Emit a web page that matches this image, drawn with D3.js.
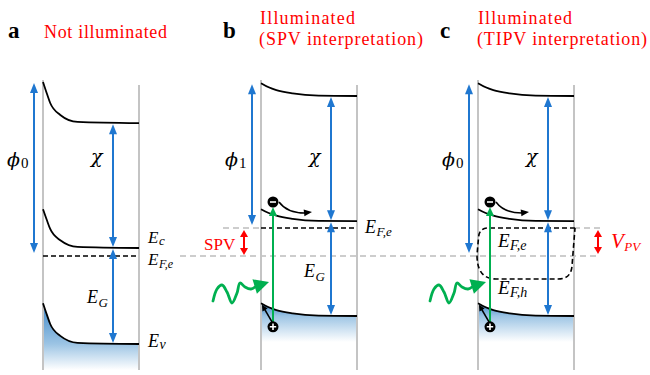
<!DOCTYPE html>
<html>
<head>
<meta charset="utf-8">
<script src="https://cdn.jsdelivr.net/npm/d3@7"></script>
<style>
  html, body { margin: 0; padding: 0; background: #fff; }
  svg { display: block; }
</style>
</head>
<body>
<script>
// Surface band diagrams: dark, illuminated (SPV view), illuminated (TIPV view)
const panelLetters = ["a", "b", "c"];
const titleLine1 = ["Not illuminated", "Illuminated", "Illuminated"];
const titleLine2 = ["", "(SPV interpretation)", "(TIPV interpretation)"];

// Energies in eV; zero is the surface vacuum level in the dark
const vacuumSurface = [0.00, -0.03, -0.03];
const vacuumBulk    = [-1.03, -0.35, -0.35];
const cbSurface     = [-3.18, -3.18, -3.18];
const cbBulk        = [-4.15, -3.48, -3.48];
const vbSurface     = [-5.53, -5.53, -5.53];
const vbBulk        = [-6.55, -5.85, -5.85];
const fermiDark     = -4.35;
const fermiElectron = [-4.35, -3.65, -3.65];
const fermiHole     = [null, null, -4.90];
const workFunctionEnd = [-4.35, -3.65, -4.35];
const workFunctionSub = ["0", "1", "0"];

// Normalised band bending vs depth (1 at the surface, 0 in the bulk)
const bendDepthDark  = [0, 0.04, 0.075, 0.18, 0.36, 1];
const bendFracDark   = [1, 0.72, 0.49, 0.20, 0.03, 0];
const bendDepthLight = [0, 0.08, 0.16, 0.33, 0.60, 1];
const bendFracLight  = [1, 0.68, 0.46, 0.20, 0.03, 0];

// Photogenerated carriers (panels b and c)
const carrierDepth = 0.125;
const electronEnergy = -3.0;
const holeEnergy = -6.12;

// ---------------------------------------------------------------
const W = 650, H = 375;
const svg = d3.select("body").append("svg").attr("width", W).attr("height", H);
const defs = svg.append("defs");

const y = d3.scaleLinear().domain([0, -7.2]).range([82, 370]);
const yBottom = y.range()[1];
const wallLeft = [43, 261, 478];
const wallWidth = 96;
const letterX = [8, 223, 440];
const titleX = [44, 260, 478];
const titleW1 = [123, 95, 94];
const titleW2 = [0, 164, 170];

const serif = "'Liberation Serif', 'Times New Roman', serif";
const greek = "'DejaVu Serif', serif";
const BLUE = "#1f77d0", GREEN = "#00b050", RED = "#ff0000", GRAY = "#c4c4c4";

function head(g, tipX, tipY, fromX, fromY, len, width, color) {
  const dx = tipX - fromX, dy = tipY - fromY, d = Math.hypot(dx, dy);
  const ux = dx / d, uy = dy / d;
  const bx = tipX - ux * len, by = tipY - uy * len;
  const px = -uy * width / 2, py = ux * width / 2;
  g.append("path")
    .attr("d", `M${tipX},${tipY}L${bx + px},${by + py}L${bx - px},${by - py}Z`)
    .attr("fill", color);
  return [bx + ux, by + uy];
}

function arrow(g, x1, y1, x2, y2, o) {
  let s = [x1, y1];
  const e = head(g, x2, y2, x1, y1, o.len, o.w, o.color);
  if (o.both) s = head(g, x1, y1, x2, y2, o.len, o.w, o.color);
  g.append("line")
    .attr("x1", s[0]).attr("y1", s[1]).attr("x2", e[0]).attr("y2", e[1])
    .attr("stroke", o.color).attr("stroke-width", o.sw);
}

function mathLabel(g, x, yb, main, sub, size, opts = {}) {
  const t = g.append("text")
    .attr("x", x).attr("y", yb)
    .attr("font-family", opts.family || serif)
    .attr("font-style", "italic")
    .attr("font-size", size)
    .attr("fill", opts.color || "#000");
  t.append("tspan").text(main);
  if (sub) {
    t.append("tspan")
      .attr("font-family", serif)
      .attr("font-size", opts.subSize || size * 0.68)
      .attr("font-style", opts.subUpright ? "normal" : "italic")
      .attr("dx", opts.subDx || 0.5)
      .attr("dy", opts.subDy != null ? opts.subDy : size * 0.2)
      .text(sub);
  }
  return t;
}

// Light-grey reference lines (dark Fermi level and illuminated E_F,e)
const refG = svg.append("g").attr("stroke", "#bdbdbd").attr("stroke-width", 1.3)
  .attr("stroke-dasharray", "6,4").attr("fill", "none");
refG.append("line").attr("x1", 180).attr("x2", 600)
  .attr("y1", y(fermiDark)).attr("y2", y(fermiDark));
refG.append("line").attr("x1", 223).attr("x2", wallLeft[1])
  .attr("y1", y(fermiElectron[1])).attr("y2", y(fermiElectron[1]));
refG.append("line").attr("x1", wallLeft[2] + wallWidth).attr("x2", 600)
  .attr("y1", y(fermiElectron[2])).attr("y2", y(fermiElectron[2]));

panelLetters.forEach((letter, i) => {
  const g = svg.append("g");
  const x = d3.scaleLinear().domain([0, 1]).range([wallLeft[i], wallLeft[i] + wallWidth]);
  const depth = i === 0 ? bendDepthDark : bendDepthLight;
  const frac = i === 0 ? bendFracDark : bendFracLight;
  const bandPts = (surf, bulk) => depth.map((d, k) => [x(d), y(bulk + (surf - bulk) * frac[k])]);
  const line = d3.line().curve(d3.curveMonotoneX);

  // Headings
  g.append("text").attr("x", letterX[i]).attr("y", 38)
    .attr("font-family", serif).attr("font-weight", "bold").attr("font-size", 23)
    .text(letter);
  if (titleLine2[i]) {
    g.append("text").attr("x", titleX[i]).attr("y", 24)
      .attr("font-family", serif).attr("font-size", 18).attr("fill", RED)
      .attr("textLength", titleW1[i]).attr("lengthAdjust", "spacing")
      .text(titleLine1[i]);
    g.append("text").attr("x", titleX[i] - 1).attr("y", 45)
      .attr("font-family", serif).attr("font-size", 18).attr("fill", RED)
      .attr("textLength", titleW2[i]).attr("lengthAdjust", "spacing")
      .text(titleLine2[i]);
  } else {
    g.append("text").attr("x", titleX[i]).attr("y", 38)
      .attr("font-family", serif).attr("font-size", 18).attr("fill", RED)
      .attr("textLength", titleW1[i]).attr("lengthAdjust", "spacing")
      .text(titleLine1[i]);
  }

  // Valence-band shading: strong in the bent region, pale at the bulk level, white below
  const gid = "vbFill" + i;
  const gTop = y(vbSurface[i]), gMid = y(vbBulk[i]), gEnd = y(vbBulk[i]) + 26;
  const grad = defs.append("linearGradient").attr("id", gid)
    .attr("gradientUnits", "userSpaceOnUse")
    .attr("x1", 0).attr("x2", 0).attr("y1", gTop).attr("y2", gEnd);
  grad.append("stop").attr("offset", 0).attr("stop-color", "#3f88c8");
  grad.append("stop").attr("offset", (gMid - gTop) / (gEnd - gTop)).attr("stop-color", "#9cc4e4");
  grad.append("stop").attr("offset", 1).attr("stop-color", "#ffffff");
  const vbPts = bandPts(vbSurface[i], vbBulk[i]);
  g.append("path")
    .attr("d", d3.area().curve(d3.curveMonotoneX).x(p => p[0]).y0(yBottom).y1(p => p[1])(vbPts))
    .attr("fill", `url(#${gid})`);

  // Sample walls
  g.append("line").attr("x1", x(0)).attr("x2", x(0)).attr("y1", 80).attr("y2", yBottom)
    .attr("stroke", GRAY).attr("stroke-width", 2);
  g.append("line").attr("x1", x(1)).attr("x2", x(1)).attr("y1", 85).attr("y2", yBottom)
    .attr("stroke", GRAY).attr("stroke-width", 2);

  // Bands
  [[vacuumSurface[i], vacuumBulk[i]], [cbSurface[i], cbBulk[i]], [vbSurface[i], vbBulk[i]]]
    .forEach(([s, b]) => {
      g.append("path").attr("d", line(bandPts(s, b)))
        .attr("fill", "none").attr("stroke", "#000").attr("stroke-width", 1.8);
    });

  // Fermi levels
  if (fermiHole[i] === null) {
    g.append("line").attr("x1", x(0)).attr("x2", x(1))
      .attr("y1", y(fermiElectron[i])).attr("y2", y(fermiElectron[i]))
      .attr("stroke", "#000").attr("stroke-width", 1.6).attr("stroke-dasharray", "5,3");
  } else {
    const t = y(fermiElectron[i]), b = y(fermiHole[i]);
    const l = x(0), r = x(1);
    g.append("path")
      .attr("d", `M${r + 1},${t} L${l + 10},${t} Q${l + 1},${t} ${l + 0.5},${t + 10}` +
        ` L${l - 1},${t + 27} Q${l - 1},${b + 1} ${l + 18},${b + 1}` +
        ` L${r - 16},${b + 1} Q${r - 3},${b + 1} ${r - 2},${b - 12} L${r + 1},${t}`)
      .attr("fill", "none").attr("stroke", "#000").attr("stroke-width", 1.6)
      .attr("stroke-dasharray", "5,3");
  }

  // Energy arrows
  const blueOpt = { color: BLUE, sw: 2, len: 10, w: 8, both: true };
  const xPhi = x(0) - 9, xChi = x(0) + 70;
  arrow(g, xPhi, y(vacuumSurface[i]) + 1, xPhi, y(workFunctionEnd[i]) - 3, blueOpt);
  arrow(g, xChi, y(vacuumBulk[i]) + 1, xChi, y(cbBulk[i]) - 1, blueOpt);
  arrow(g, xChi, y(cbBulk[i]) + 1, xChi, y(vbBulk[i]) - 1, blueOpt);

  mathLabel(g, xPhi - 27, 166, "ϕ", workFunctionSub[i], 19,
    { family: greek, subUpright: true, subSize: 15, subDx: 1, subDy: 2 });
  mathLabel(g, xChi - 22, 163, "χ", null, 19, { family: greek });

  if (i === 0) {
    mathLabel(g, xChi - 26, y(cbBulk[i]) + 55, "E", "G", 18, { subSize: 13 });
    mathLabel(g, x(1) + 9, y(cbBulk[i]) - 5, "E", "c", 17, { subSize: 13, subDy: 2 });
    mathLabel(g, x(1) + 9, y(fermiElectron[i]) + 9, "E", "F,e", 17, { subSize: 12, subDy: 3 });
    mathLabel(g, x(1) + 9, y(vbBulk[i]) + 3, "E", "v", 18, { subSize: 14, subDy: 2 });
  } else if (i === 1) {
    mathLabel(g, xChi - 27, y(cbBulk[i]) + 56, "E", "G", 18, { subSize: 13 });
    mathLabel(g, x(1) + 8, y(fermiElectron[i]) + 5, "E", "F,e", 18, { subSize: 13, subDy: 3 });
    // SPV marker between the dark and illuminated Fermi levels
    arrow(g, x(0) - 17, y(fermiElectron[i]) + 2, x(0) - 17, y(fermiDark) - 1,
      { color: RED, sw: 2, len: 7, w: 8, both: true });
    g.append("text").attr("x", x(0) - 57).attr("y", y(fermiDark) - 6)
      .attr("font-family", serif).attr("font-size", 17).attr("fill", RED).text("SPV");
  } else {
    mathLabel(g, x(0) + 20, y(fermiElectron[i]) + 19, "E", "F,e", 19, { subSize: 14, subDy: 3 });
    mathLabel(g, x(0) + 20, y(fermiHole[i]) + 16, "E", "F,h", 19, { subSize: 14, subDy: 3 });
    arrow(g, x(1) + 24, y(fermiElectron[i]) + 2, x(1) + 24, y(fermiDark) - 2,
      { color: RED, sw: 2, len: 7, w: 8, both: true });
    mathLabel(g, x(1) + 37, y(fermiDark) - 8, "V", "PV", 21, { color: RED, subSize: 13, subDy: 3 });
  }

  if (i > 0) {
    const cx = x(carrierDepth);
    const ey = y(electronEnergy), hy = y(holeEnergy);

    // Incoming photon
    const wl = x(0);
    const wave = [[-48, 301], [-44, 289], [-39, 285], [-34, 292], [-29, 303],
                  [-24, 293], [-21, 283], [-16, 287], [-10, 289], [-6, 287]];
    g.append("path")
      .attr("d", d3.line().curve(d3.curveCatmullRom)(wave.map(p => [wl + p[0], p[1]])))
      .attr("fill", "none").attr("stroke", GREEN).attr("stroke-width", 2.8)
      .attr("stroke-linecap", "round");
    head(g, wl + 8, 282, wl - 8, 287, 15, 15, GREEN);

    // Optical excitation
    arrow(g, cx, hy, cx, ey + 5, { color: GREEN, sw: 2, len: 9, w: 8 });

    // Electron drifting into the bulk
    g.append("path")
      .attr("d", `M${cx + 6},${ey} Q${cx + 14},${ey + 11} ${cx + 32},${ey + 11}`)
      .attr("fill", "none").attr("stroke", "#000").attr("stroke-width", 1.5);
    head(g, cx + 39, ey + 10, cx + 30, ey + 11, 8, 7, "#000");

    // Hole moving to the surface
    arrow(g, cx - 1, hy - 5, cx - 11, hy - 22, { color: "#000", sw: 1.6, len: 6, w: 6 });

    // Carriers
    g.append("circle").attr("cx", cx).attr("cy", ey).attr("r", 5.5).attr("fill", "#000");
    g.append("line").attr("x1", cx - 3).attr("x2", cx + 3).attr("y1", ey).attr("y2", ey)
      .attr("stroke", "#fff").attr("stroke-width", 1.6);
    g.append("circle").attr("cx", cx).attr("cy", hy).attr("r", 5.5).attr("fill", "#000");
    g.append("path").attr("d", `M${cx - 3.2},${hy}H${cx + 3.2}M${cx},${hy - 3.2}V${hy + 3.2}`)
      .attr("stroke", "#fff").attr("stroke-width", 1.6);
  }
});
</script>
</body>
</html>
